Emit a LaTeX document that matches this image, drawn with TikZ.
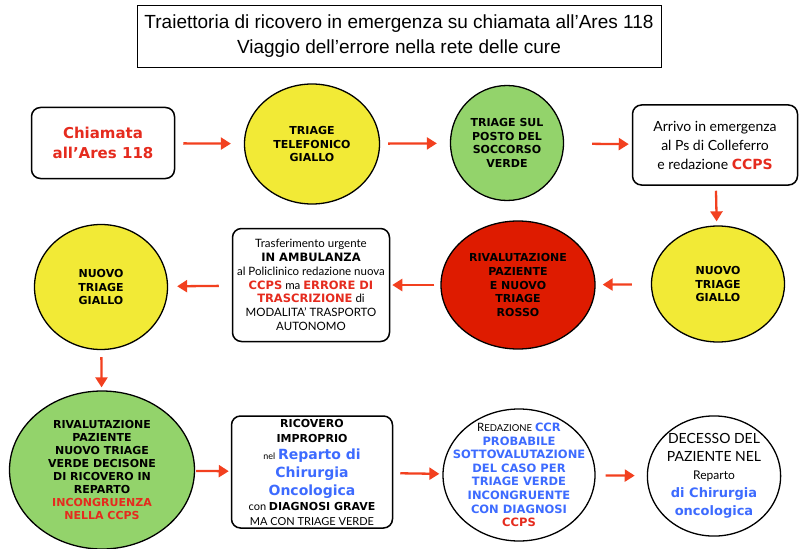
\documentclass[tikz,border=0pt]{standalone}
\usepackage{fontspec}
\setmainfont{Lato}[BoldFont={DejaVu Sans Bold}]
\newfontfamily\titlefont{Liberation Sans}
\usetikzlibrary{shapes.geometric,arrows.meta}

\definecolor{giallo}{HTML}{F2EA36}
\definecolor{verde}{HTML}{93D36B}
\definecolor{rosso}{HTML}{DE1B00}
\definecolor{freccia}{HTML}{F2401F}
\definecolor{txtred}{HTML}{E52B1E}
\definecolor{blu}{HTML}{3D6BFF}

\newcommand{\rr}[1]{\textcolor{txtred}{\bfseries #1}}
\newcommand{\bb}[1]{\textcolor{blu}{\bfseries #1}}

\begin{document}
\begin{tikzpicture}[x=1pt, y=-1pt,
    box/.style={draw, rounded corners=9pt, line width=1.5pt, align=center, inner sep=0pt},
    oval/.style={ellipse, draw, line width=1.3pt, align=center, inner sep=0pt,
        font=\bfseries\fontsize{11}{13.5}\selectfont},
    arr/.style={freccia, line width=2.3pt, -{Triangle[length=10pt,width=12pt]}}]
    \useasboundingbox (0,0) rectangle (799,548);

    % Title
    \node (title) [draw, line width=0.8pt, minimum width=524pt, minimum height=62pt,
        align=center, font=\titlefont\fontsize{19}{25}\selectfont] at (399,36)
        {Traiettoria di ricovero in emergenza su chiamata all’Ares 118\\Viaggio dell’errore nella rete delle cure};

    % Nodes for the first row
    \node (chiamata) [box, minimum width=143pt, minimum height=71pt,
        font=\bfseries\fontsize{15}{20}\selectfont, text=txtred] at (103,143) {Chiamata\\all’Ares 118};
    \node (telefonico) [oval, fill=giallo, minimum width=135pt, minimum height=120pt] at (312,144)
        {TRIAGE\\TELEFONICO\\GIALLO};
    \node (posto) [oval, fill=verde, minimum width=113pt, minimum height=115pt] at (507,143)
        {TRIAGE SUL\\POSTO DEL\\SOCCORSO\\VERDE};
    \node (arrivo) [box, minimum width=165pt, minimum height=80pt,
        font=\fontsize{14}{19}\selectfont] at (715,145)
        {Arrivo in emergenza\\al Ps di Colleferro\\e redazione \rr{CCPS}};

    % Nodes for the second row
    \node (giallo2) [oval, fill=giallo, minimum width=133pt, minimum height=116pt] at (718,284)
        {NUOVO\\TRIAGE\\GIALLO};
    \node (rosso) [oval, fill=rosso, minimum width=154pt, minimum height=128pt,
        font=\bfseries\fontsize{11}{13.8}\selectfont] at (518,285)
        {RIVALUTAZIONE\\PAZIENTE\\E NUOVO\\TRIAGE\\ROSSO};
    \node (trasf) [box, minimum width=157pt, minimum height=113pt,
        font=\fontsize{11.5}{13.8}\selectfont] at (311,285)
        {Trasferimento urgente\\\textbf{IN AMBULANZA}\\al Policlinico redazione nuova\\
         \rr{CCPS} ma \rr{ERRORE DI}\\\rr{TRASCRIZIONE} di\\MODALITA’ TRASPORTO\\AUTONOMO};
    \node (giallo3) [oval, fill=giallo, minimum width=133pt, minimum height=125pt] at (101,287)
        {NUOVO\\TRIAGE\\GIALLO};

    % Nodes for the third row
    \node (verde2) [oval, fill=verde, minimum width=185pt, minimum height=158pt,
        font=\bfseries\fontsize{11}{13}\selectfont] at (102,470)
        {RIVALUTAZIONE\\PAZIENTE\\NUOVO TRIAGE\\VERDE DECISONE\\DI RICOVERO IN\\REPARTO\\
         \textcolor{txtred}{INCONGRUENZA}\\\textcolor{txtred}{NELLA CCPS}};
    \node (ricovero) [box, minimum width=161pt, minimum height=112pt,
        font=\fontsize{11}{15}\selectfont] at (312,472)
        {\textbf{RICOVERO}\\\textbf{IMPROPRIO}\\[2pt]
         {\small nel} {\fontsize{14}{15}\selectfont\bb{Reparto di}}\\[3pt]
         {\fontsize{14}{15}\selectfont\bb{Chirurgia}}\\[3pt]
         {\fontsize{14}{15}\selectfont\bb{Oncologica}}\\
         con \textbf{DIAGNOSI GRAVE}\\MA CON TRIAGE VERDE};
    \node (redazione) [oval, minimum width=152pt, minimum height=132pt,
        inner xsep=-13pt, inner ysep=-9pt,
        font=\fontsize{11.5}{13.6}\selectfont] at (519,475)
        {R{\fontsize{9.5}{13.6}\selectfont EDAZIONE} \bb{CCR}\\\bb{PROBABILE}\\\bb{SOTTOVALUTAZIONE}\\
         \bb{DEL CASO PER}\\\bb{TRIAGE VERDE}\\\bb{INCONGRUENTE}\\\bb{CON DIAGNOSI}\\\rr{CCPS}};
    \node (decesso) [oval, minimum width=128pt, minimum height=117pt,
        font=\mdseries\fontsize{14}{18}\selectfont] at (714,476)
        {DECESSO DEL\\PAZIENTE NEL\\{\fontsize{12}{18}\selectfont Reparto}\\
         {\fontsize{13}{18}\selectfont\bb{di Chirurgia}}\\{\fontsize{13}{18}\selectfont\bb{oncologica}}};

    % Arrows along the path
    \draw[arr, shorten <=8pt, shorten >=13pt] (chiamata) -- (telefonico);
    \draw[arr, shorten <=8pt, shorten >=13pt] (telefonico) -- (posto);
    \draw[arr, shorten <=28pt, shorten >=3pt] (posto) -- (arrivo);
    \draw[arr, shorten <=5pt, shorten >=4pt] (arrivo) -- (giallo2);
    \draw[arr, shorten <=19pt, shorten >=7pt] (giallo2) -- (rosso);
    \draw[arr, shorten <=6pt, shorten >=2pt] (rosso) -- (trasf);
    \draw[arr, shorten <=13pt, shorten >=9pt] (trasf) -- (giallo3);
    \draw[arr, shorten <=7pt, shorten >=3pt] (giallo3) -- (verde2);
    \draw[arr, shorten <=1pt, shorten >=2pt] (verde2) -- (ricovero);
    \draw[arr, shorten <=7pt, shorten >=3pt] (ricovero) -- (redazione);
    \draw[arr, shorten <=10pt, shorten >=12pt] (redazione) -- (decesso);
\end{tikzpicture}
\end{document}
